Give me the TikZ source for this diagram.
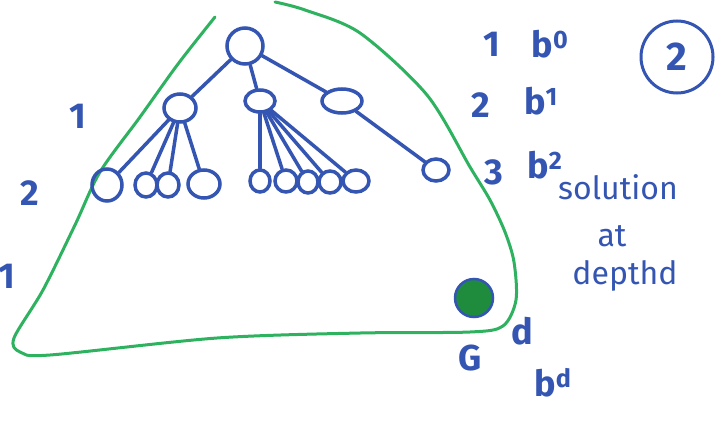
\documentclass[tikz,border=0pt]{standalone}
\usepackage{fontspec}
\setmainfont{Fira Sans}
\usetikzlibrary{shapes.geometric}
\definecolor{pen}{RGB}{52,86,178}
\definecolor{greenpen}{RGB}{46,178,96}
\definecolor{dot}{RGB}{30,140,60}
\tikzset{
  nd/.style={ellipse, draw=pen, line width=3.5pt, inner sep=0pt},
  ed/.style={draw=pen, line width=3.5pt, line cap=round},
  hw/.style={text=pen, inner sep=0pt, font=\fontsize{36}{40}\selectfont\bfseries},
  hws/.style={text=pen, inner sep=0pt, font=\fontsize{32}{34}\selectfont},
}
\begin{document}
\begin{tikzpicture}[x=1pt,y=-1pt]
\useasboundingbox[fill=white] (0,0) rectangle (727,423);
% green outline
\draw[draw=greenpen, line width=3pt, line cap=round, line join=round]
  plot[smooth, tension=0.5] coordinates {(215,17) (178,64) (140,117) (100,172) (75,225) (43,290) (14,338) (20,352) (50,355) (217,338) (360,333) (470,332) (503,326) (516,300) (514,262) (505,232) (490,200) (470,167) (427,95) (360,33) (305,10) (275,2)};
% tree nodes
\node[nd, minimum width=36pt, minimum height=36pt] (r) at (245,46) {};
\node[nd, minimum width=32pt, minimum height=28pt] (A) at (180,108) {};
\node[nd, minimum width=30pt, minimum height=22pt] (B) at (260,101) {};
\node[nd, minimum width=40pt, minimum height=24pt] (C) at (342,101) {};
\node[nd, minimum width=30pt, minimum height=32pt] (a1) at (107,185) {};
\node[nd, minimum width=22pt, minimum height=24pt] (a2) at (146,185) {};
\node[nd, minimum width=22pt, minimum height=24pt] (a3) at (168,185) {};
\node[nd, minimum width=32pt, minimum height=28pt] (a4) at (204,184) {};
\node[nd, minimum width=20pt, minimum height=22pt] (b1) at (260,181) {};
\node[nd, minimum width=22pt, minimum height=22pt] (b2) at (286,181) {};
\node[nd, minimum width=20pt, minimum height=22pt] (b3) at (308,182) {};
\node[nd, minimum width=22pt, minimum height=22pt] (b4) at (330,182) {};
\node[nd, minimum width=26pt, minimum height=22pt] (b5) at (356,181) {};
\node[nd, minimum width=26pt, minimum height=22pt] (c1) at (436,170) {};
% edges
\draw[ed] (r) -- (A);
\draw[ed] (r) -- (B);
\draw[ed] (r) -- (C);
\foreach \k in {a1,a2,a3,a4} \draw[ed] (A) -- (\k);
\foreach \k in {b1,b2,b3,b4,b5} \draw[ed] (B) -- (\k);
\draw[ed] (C) -- (c1);
% goal
\node[circle, draw=pen, line width=2.5pt, fill=dot, minimum size=38pt, inner sep=0pt] (g) at (474,298) {};
% labels left
\node[hw] (l1) at (78,116) {1};
\node[hw] (l2) at (30,193) {2};
\node[hw] (l3) at (7,276) {1};
% right column
\node[hw] (n1) at (492,44) {1};
\node[hw] (p0) at (550,44) {b\textsuperscript{0}};
\node[hw] (n2) at (481,105) {2};
\node[hw] (p1) at (541,101) {b\textsuperscript{1}};
\node[hw] (n3) at (494,172) {3};
\node[hw] (p2) at (545,165) {b\textsuperscript{2}};
\node[circle, draw=pen, line width=3pt, minimum width=72pt, inner sep=0pt, text=pen, font=\fontsize{40}{44}\selectfont\bfseries] (c2) at (677,57) {2};
\node[hws] (s1) at (618,187) {solution};
\node[hws] (s2) at (612,236) {at};
\node[hws] (s3) at (625,276) {depthd};
\node[hw] (G) at (470,358) {G};
\node[hw] (d) at (522,331) {d};
\node[hw] (bd) at (553,383) {b\textsuperscript{d}};
\end{tikzpicture}
\end{document}
